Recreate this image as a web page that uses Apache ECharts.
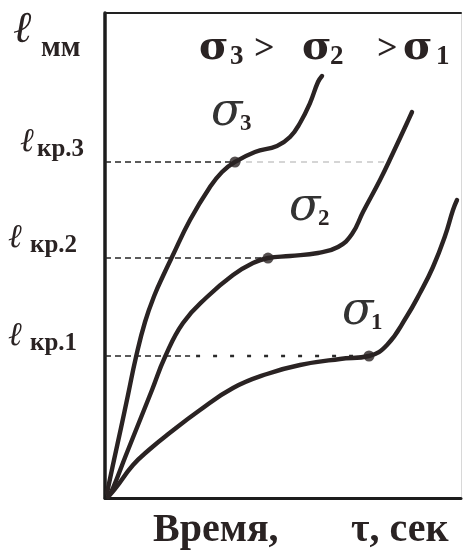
<!DOCTYPE html>
<html><head><meta charset="utf-8">
<script src="https://cdn.jsdelivr.net/npm/echarts@6/dist/echarts.min.js"></script>
<style>html,body{margin:0;padding:0;background:#fff}#chart{width:464px;height:552px}</style>
</head><body><div id="chart"></div>
<script>
// Creep curves: elongation ℓ versus time τ for three stress levels σ3 > σ2 > σ1
const sigma3Curve = [[0.56,1.03],[2.53,7.84],[4.49,14.43],[6.46,21.24],[8.71,29.07],[11.24,36.29],[14.04,42.06],[16.29,45.77],[18.82,49.69],[23.88,57.32],[29.49,64.12],[32.87,67.22],[36.52,69.28],[42.13,71.34],[48.31,72.58],[51.97,74.43],[54.78,77.32],[57.58,81.44],[59.83,85.77],[60.96,87.01]];
const sigma2Curve = [[0.84,0.21],[2.25,2.06],[5.90,8.87],[9.83,16.08],[13.20,22.27],[16.85,29.07],[21.91,36.08],[28.65,41.44],[35.96,45.98],[41.57,48.45],[45.79,49.48],[51.97,49.90],[59.83,50.52],[65.45,51.75],[69.38,54.43],[72.47,58.97],[77.25,65.57],[80.90,71.13],[84.83,77.32],[86.24,79.59]];
const sigma1Curve = [[0.84,0.21],[2.81,1.86],[7.87,6.80],[12.64,10.10],[17.42,12.99],[26.69,18.14],[35.96,22.68],[45.51,25.57],[54.78,27.42],[66.01,28.66],[74.16,29.28],[79.21,31.55],[84.83,37.53],[88.48,42.27],[92.13,47.63],[95.51,54.02],[97.75,59.38],[98.88,61.44]];

// critical points (onset of accelerated creep), ordered σ1, σ2, σ3
const critTimes = [74.16, 45.79, 36.52];
const critLevels = [29.28, 49.48, 69.28];
const critLabels = ['кр.1', 'кр.2', 'кр.3'];
const curveIndices = ['1', '2', '3'];
const headerOrder = ['3', '2', '1'];
const axisTitleLeft = 'Время,';
const axisTitleRight = 'τ, сек';
const yAxisTitle = 'мм';
const kr3Extension = 80;   // faint continuation of the ℓкр.3 guide
const kr1DashEnd = 23.9;   // ℓкр.1 guide turns from dashes to dots here

const INK = '#2a2323';
const SERIF = '"Liberation Serif","DejaVu Serif",serif';

const chart = echarts.init(document.getElementById('chart'), null, {renderer: 'canvas'});

const curveStyle = {width: 4.4, color: INK, cap: 'round', join: 'round'};
const guideStyle = {width: 1.6, color: '#262626', type: [6, 4]};

const series = [];
[sigma1Curve, sigma2Curve, sigma3Curve].forEach((d) => {
  series.push({type: 'line', data: d, smooth: 0.45, showSymbol: false,
    silent: true, lineStyle: curveStyle, z: 5});
});
critLevels.forEach((lvl, i) => {
  const end = i === 0 ? kr1DashEnd : critTimes[i];
  series.push({type: 'line', data: [[0, lvl], [end, lvl]], showSymbol: false,
    silent: true, lineStyle: guideStyle, z: 3});
});
series.push({type: 'line', data: [[kr1DashEnd, critLevels[0]], [critTimes[0], critLevels[0]]],
  showSymbol: false, silent: true,
  lineStyle: {width: 2.6, color: '#2a2a2a', type: [4, 13], dashOffset: -6}, z: 3});
series.push({type: 'line', data: [[critTimes[2], critLevels[2]], [kr3Extension, critLevels[2]]],
  showSymbol: false, silent: true, lineStyle: {width: 1.3, color: '#c8c8c8', type: [6, 5]}, z: 2});
series.push({type: 'scatter', data: critTimes.map((t, i) => [t, critLevels[i]]),
  symbolSize: 11, itemStyle: {color: INK}, silent: true, z: 6});

const hidden = {axisTick: {show: false}, axisLabel: {show: false}, splitLine: {show: false}};
chart.setOption({
  animation: false,
  backgroundColor: '#fff',
  grid: {left: 105, right: 3, top: 13, bottom: 54},
  xAxis: [
    Object.assign({type: 'value', min: 0, max: 100, position: 'bottom',
      axisLine: {onZero: false, lineStyle: {color: '#1c1c1c', width: 3}}}, hidden),
    Object.assign({type: 'value', min: 0, max: 100, position: 'top', gridIndex: 0,
      axisLine: {onZero: false, lineStyle: {color: '#222', width: 2}}}, hidden)
  ],
  yAxis: [
    Object.assign({type: 'value', min: 0, max: 100, position: 'left',
      axisLine: {onZero: false, lineStyle: {color: '#1c1c1c', width: 3.5}}}, hidden),
    Object.assign({type: 'value', min: 0, max: 100, position: 'right',
      axisLine: {onZero: false, lineStyle: {color: '#d8d8d8', width: 1}}}, hidden)
  ],
  series: series
});

const px = (t, l) => chart.convertToPixel({gridIndex: 0}, [t, l]);

function txt(text, x, y, size, opts) {
  return {type: 'text', silent: true, z: 20, style: Object.assign({
    text: text, x: x, y: y, fill: INK, font: 'bold ' + size + 'px ' + SERIF,
    verticalAlign: 'middle', align: 'left'}, opts || {})};
}

const elements = [];
// ℓ, мм at the top of the vertical axis
elements.push(txt('ℓ', 13, 30, 44, {font: 'italic 44px ' + SERIF}));
elements.push(txt(yAxisTitle, 41, 49, 29));

// ℓкр labels beside the guides
const labelLeft = [8, 8, 20];
critLevels.forEach((lvl, i) => {
  const p = px(0, lvl);
  elements.push(txt('ℓ', labelLeft[i], p[1] - 20, 33, {font: 'italic 33px ' + SERIF}));
  elements.push(txt(critLabels[i], labelLeft[i] + 17 + (i === 2 ? 0 : 5), p[1] - 12, 25));
});

// header σ3 > σ2 > σ1
const sigmaX = [199, 302, 403];
const digitX = [230, 330, 436];
const gtX = [254, 377];
headerOrder.forEach((n, i) => {
  elements.push(txt('σ', sigmaX[i], 49, 40, {font: 'bold 40px "DejaVu Serif",serif'}));
  elements.push(txt(n, digitX[i], 57, 27));
  if (i < 2) elements.push(txt('>', gtX[i], 50, 36));
});

// curve labels
const curveLabelAt = [[71.1, 38.4], [56.2, 59.8], [34.3, 79.4]];
curveIndices.forEach((n, i) => {
  const p = px(curveLabelAt[i][0], curveLabelAt[i][1]);
  elements.push(txt('σ', p[0] - 16, p[1], 46, {font: 'italic 46px "DejaVu Serif",serif', fill: '#333'}));
  elements.push(txt(n, p[0] + 13, p[1] + 11, 23));
});

// time axis title
elements.push(txt(axisTitleLeft, 153, 531, 40));
elements.push(txt(axisTitleRight, 351, 531, 40));

chart.setOption({graphic: {elements: elements}});
</script></body></html>
